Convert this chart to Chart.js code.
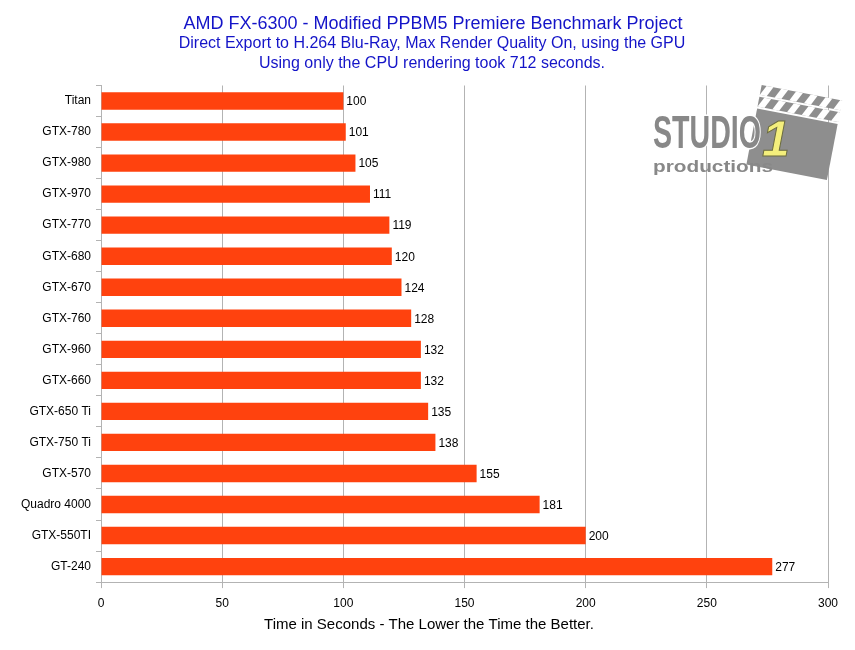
<!DOCTYPE html>
<html lang="en">
<head>
  <meta charset="UTF-8">
  <title>AMD FX-6300 - PPBM5 Premiere Benchmark</title>
  <style>
    body { margin: 0; background: #ffffff; }
    .wrap { width: 855px; height: 650px; position: relative; }
  </style>
</head>
<body>
  <div class="wrap"><canvas id="chart" width="855" height="650"></canvas></div>

  <script src="https://cdn.jsdelivr.net/npm/chart.js"></script>
  <script>
    const cards = ['Titan', 'GTX-780', 'GTX-980', 'GTX-970', 'GTX-770', 'GTX-680', 'GTX-670', 'GTX-760',
      'GTX-960', 'GTX-660', 'GTX-650 Ti', 'GTX-750 Ti', 'GTX-570', 'Quadro 4000', 'GTX-550TI', 'GT-240'];
    const seconds = [100, 101, 105, 111, 119, 120, 124, 128, 132, 132, 135, 138, 155, 181, 200, 277];
    const xTicks = [0, 50, 100, 150, 200, 250, 300];

    const titleText = 'AMD FX-6300 - Modified PPBM5 Premiere Benchmark Project';
    const subtitleLines = ['Direct Export to H.264 Blu-Ray, Max Render Quality On, using the GPU',
      'Using only the CPU rendering took 712 seconds.'];
    const axisTitle = 'Time in Seconds - The Lower the Time the Better.';

    const FONT = "'Liberation Sans', Arial, sans-serif";
    const grey = '#b3b3b3';
    const blue = '#1414c8';

    // value labels at the end of each bar
    const valueLabels = {
      id: 'valueLabels',
      afterDatasetsDraw(chart) {
        const ctx = chart.ctx;
        const meta = chart.getDatasetMeta(0);
        ctx.save();
        ctx.font = '12px ' + FONT;
        ctx.fillStyle = '#000';
        ctx.textBaseline = 'middle';
        meta.data.forEach((bar, i) => {
          ctx.fillText(String(seconds[i]), bar.x + 3, bar.y + 1);
        });
        ctx.restore();
      }
    };

    // headings and x axis caption; in the original they sit left of the plot centre
    const headings = {
      id: 'headings',
      afterDraw(chart) {
        const ctx = chart.ctx;
        ctx.save();
        ctx.textAlign = 'center';
        ctx.textBaseline = 'alphabetic';
        ctx.fillStyle = blue;
        ctx.font = '18px ' + FONT;
        ctx.fillText(titleText, 433, 29);
        ctx.font = '16px ' + FONT;
        ctx.fillText(subtitleLines[0], 432, 48);
        ctx.fillText(subtitleLines[1], 432, 68);
        ctx.fillStyle = '#000';
        ctx.font = '15px ' + FONT;
        ctx.textBaseline = 'middle';
        ctx.fillText(axisTitle, 429, 625);
        ctx.restore();
      }
    };

    // squeeze text into a given width
    function fitText(ctx, txt, x, y, w, font, outline) {
      ctx.save();
      ctx.font = font;
      const sx = w / ctx.measureText(txt).width;
      ctx.translate(x, y);
      ctx.scale(sx, 1);
      if (outline) {
        ctx.strokeStyle = '#ffffff';
        ctx.lineWidth = 3;
        ctx.lineJoin = 'round';
        ctx.strokeText(txt, 0, 0);
      }
      ctx.fillText(txt, 0, 0);
      ctx.restore();
    }

    // studio logo in the top right corner
    const logo = {
      id: 'logo',
      afterDraw(chart) {
        const ctx = chart.ctx;
        ctx.save();
        ctx.translate(794, 134);
        ctx.rotate(0.19);
        ctx.fillStyle = '#8e8e8e';
        ctx.fillRect(-41, -18, 82, 57);
        ctx.fillRect(-41, -42, 82, 10);
        ctx.fillRect(-41, -30, 82, 10);
        ctx.fillStyle = '#ffffff';
        for (let k = 0; k < 6; k++) {
          for (const [y0, y1] of [[-42, -32], [-30, -20]]) {
            ctx.beginPath();
            ctx.moveTo(-36 + k * 15, y0);
            ctx.lineTo(-29 + k * 15, y0);
            ctx.lineTo(-34 + k * 15, y1);
            ctx.lineTo(-41 + k * 15, y1);
            ctx.closePath();
            ctx.fill();
          }
        }
        ctx.restore();

        ctx.save();
        ctx.fillStyle = '#888888';
        ctx.textBaseline = 'alphabetic';
        fitText(ctx, 'STUDIO', 653, 148, 108, 'bold 47px ' + FONT, true);
        fitText(ctx, 'productions', 653, 172, 120, 'bold 17px ' + FONT, false);
        ctx.restore();

        ctx.save();
        ctx.font = 'italic bold 50px ' + FONT;
        ctx.fillStyle = '#f4ef7c';
        ctx.strokeStyle = '#6b6b40';
        ctx.lineWidth = 1;
        ctx.fillText('1', 762, 156);
        ctx.strokeText('1', 762, 156);
        ctx.restore();
      }
    };

    new Chart(document.getElementById('chart'), {
      type: 'bar',
      data: {
        labels: cards,
        datasets: [{
          data: seconds,
          backgroundColor: '#ff420e',
          borderWidth: 0,
          categoryPercentage: 1,
          barPercentage: 0.56
        }]
      },
      options: {
        indexAxis: 'y',
        responsive: false,
        animation: false,
        devicePixelRatio: 1,
        layout: { padding: { left: 0, right: 27, top: 85.5, bottom: 31.5 } },
        plugins: {
          legend: { display: false },
          tooltip: { enabled: false },
          title: { display: false },
          subtitle: { display: false }
        },
        scales: {
          x: {
            min: 0,
            max: 300,
            afterBuildTicks(scale) { scale.ticks = xTicks.map(v => ({ value: v })); },
            grid: { color: grey, tickLength: 6, lineWidth: 1 },
            border: { color: grey },
            ticks: { color: '#000', font: { family: FONT, size: 12 }, padding: 8, maxRotation: 0 }
          },
          y: {
            afterFit(scale) { scale.width = 101; },
            grid: { drawOnChartArea: false, color: grey, tickLength: 5, offset: true },
            border: { color: grey },
            ticks: { color: '#000', font: { family: FONT, size: 12 }, padding: 5, autoSkip: false }
          }
        }
      },
      plugins: [valueLabels, headings, logo]
    });
  </script>
</body>
</html>
